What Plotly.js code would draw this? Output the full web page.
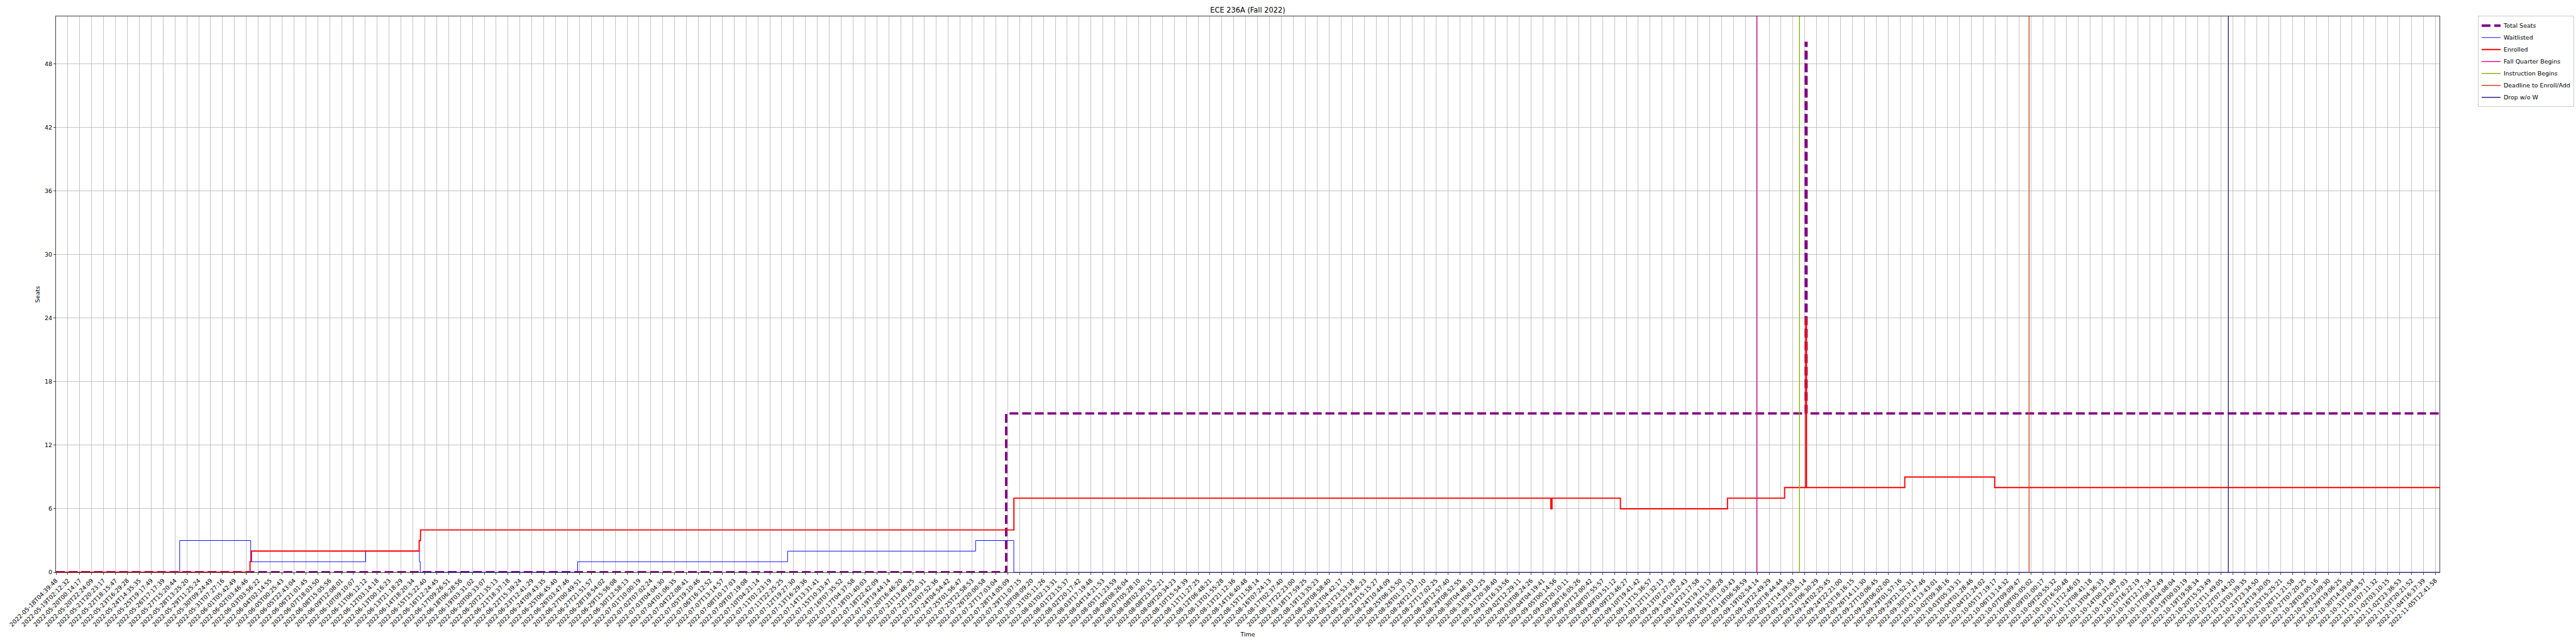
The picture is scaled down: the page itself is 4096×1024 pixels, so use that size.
<!DOCTYPE html>
<html><head><meta charset="utf-8">
<script src="https://cdn.plot.ly/plotly-3.0.1.min.js"></script>
<style>html,body{margin:0;padding:0;background:#fff;} #chart{width:4096px;height:1024px;}</style>
</head><body><div id="chart"></div>
<script>
// x positions are in tick units: tick k sits at x = k (every labelled sample)
const tickLabels = [
 '2022-05-18T04:39:48','2022-05-19T02:12:32','2022-05-20T00:14:17','2022-05-20T22:24:09','2022-05-21T20:23:17',
 '2022-05-22T18:15:47','2022-05-23T16:29:28','2022-05-24T14:35:35','2022-05-25T19:17:49','2022-05-26T17:17:39',
 '2022-05-27T15:20:44','2022-05-28T13:25:20','2022-05-29T11:25:24','2022-05-30T09:24:49','2022-05-31T07:27:16',
 '2022-06-01T05:42:49','2022-06-02T03:46:46','2022-06-03T03:56:22','2022-06-04T02:14:55','2022-06-05T00:25:43',
 '2022-06-05T22:43:04','2022-06-06T21:01:45','2022-06-07T18:03:50','2022-06-08T15:05:56','2022-06-09T12:08:01',
 '2022-06-10T09:10:07','2022-06-11T06:12:12','2022-06-12T03:14:18','2022-06-13T00:16:23','2022-06-13T21:18:29',
 '2022-06-14T18:20:34','2022-06-15T15:22:40','2022-06-16T12:24:45','2022-06-17T09:26:51','2022-06-18T06:28:56',
 '2022-06-19T03:31:02','2022-06-20T00:33:07','2022-06-20T21:35:13','2022-06-21T18:37:18','2022-06-22T15:39:24',
 '2022-06-23T12:41:29','2022-06-24T09:43:35','2022-06-25T06:45:40','2022-06-26T03:47:46','2022-06-27T00:49:51',
 '2022-06-27T21:51:57','2022-06-28T18:54:02','2022-06-29T15:56:08','2022-06-30T12:58:13','2022-07-01T10:00:19',
 '2022-07-02T07:02:24','2022-07-03T04:04:30','2022-07-04T01:06:35','2022-07-04T22:08:41','2022-07-05T19:10:46',
 '2022-07-06T16:12:52','2022-07-07T13:14:57','2022-07-08T10:17:03','2022-07-09T07:19:08','2022-07-10T04:21:14',
 '2022-07-11T01:23:19','2022-07-11T22:25:25','2022-07-12T19:27:30','2022-07-13T16:29:36','2022-07-14T13:31:41',
 '2022-07-15T10:33:47','2022-07-16T07:35:52','2022-07-17T04:37:58','2022-07-18T01:40:03','2022-07-18T22:42:09',
 '2022-07-19T19:44:14','2022-07-20T16:46:20','2022-07-21T13:48:25','2022-07-22T10:50:31','2022-07-23T07:52:36',
 '2022-07-24T04:54:42','2022-07-25T01:56:47','2022-07-25T22:58:53','2022-07-26T20:00:58','2022-07-27T17:03:04',
 '2022-07-28T14:05:09','2022-07-29T11:07:15','2022-07-30T08:09:20','2022-07-31T05:11:26','2022-08-01T02:13:31',
 '2022-08-01T23:15:37','2022-08-02T20:17:42','2022-08-03T17:19:48','2022-08-04T14:21:53','2022-08-05T11:23:59',
 '2022-08-06T08:26:04','2022-08-07T05:28:10','2022-08-08T02:30:15','2022-08-08T23:32:21','2022-08-09T20:34:23',
 '2022-08-10T15:54:39','2022-08-11T11:27:25','2022-08-12T06:48:21','2022-08-13T01:55:28','2022-08-13T21:12:36',
 '2022-08-14T16:40:48','2022-08-15T11:58:14','2022-08-16T07:24:13','2022-08-17T02:37:40','2022-08-17T22:23:00',
 '2022-08-18T17:59:25','2022-08-19T13:35:23','2022-08-20T08:58:40','2022-08-21T04:42:17','2022-08-21T23:53:18',
 '2022-08-22T19:26:23','2022-08-23T15:15:27','2022-08-24T10:44:09','2022-08-25T06:15:50','2022-08-26T01:37:33',
 '2022-08-26T21:07:10','2022-08-27T17:02:25','2022-08-28T12:57:40','2022-08-29T08:52:55','2022-08-30T04:48:10',
 '2022-08-31T00:43:25','2022-08-31T20:38:40','2022-09-01T16:33:56','2022-09-02T12:29:11','2022-09-03T08:24:26',
 '2022-09-04T04:19:41','2022-09-05T00:14:56','2022-09-05T20:10:11','2022-09-06T16:05:26','2022-09-07T12:00:42',
 '2022-09-08T07:55:57','2022-09-09T03:51:12','2022-09-09T23:46:27','2022-09-10T19:41:42','2022-09-11T15:36:57',
 '2022-09-12T11:32:13','2022-09-13T07:27:28','2022-09-14T03:22:43','2022-09-14T23:17:58','2022-09-15T19:13:13',
 '2022-09-16T15:08:28','2022-09-17T11:03:43','2022-09-18T06:58:59','2022-09-19T02:54:14','2022-09-19T22:49:29',
 '2022-09-20T18:44:44','2022-09-21T14:39:59','2022-09-22T10:35:14','2022-09-23T06:30:29','2022-09-24T02:25:45',
 '2022-09-24T22:21:00','2022-09-25T18:16:15','2022-09-26T14:11:30','2022-09-27T10:06:45','2022-09-28T06:02:00',
 '2022-09-29T01:57:16','2022-09-29T21:52:31','2022-09-30T17:47:46','2022-10-01T13:43:01','2022-10-02T09:38:16',
 '2022-10-03T05:33:31','2022-10-04T01:28:46','2022-10-04T21:24:02','2022-10-05T17:19:17','2022-10-06T13:14:32',
 '2022-10-07T09:09:47','2022-10-08T05:05:02','2022-10-09T01:00:17','2022-10-09T20:55:32','2022-10-10T16:50:48',
 '2022-10-11T12:46:03','2022-10-12T08:41:18','2022-10-13T04:36:33','2022-10-14T00:31:48','2022-10-14T20:27:03',
 '2022-10-15T16:22:19','2022-10-16T12:17:34','2022-10-17T08:12:49','2022-10-18T04:08:04','2022-10-19T00:03:19',
 '2022-10-19T19:58:34','2022-10-20T15:53:49','2022-10-21T11:49:05','2022-10-22T07:44:20','2022-10-23T03:39:35',
 '2022-10-23T23:34:50','2022-10-24T19:30:05','2022-10-25T15:25:21','2022-10-26T11:21:58','2022-10-27T07:20:25',
 '2022-10-28T03:05:16','2022-10-28T23:09:30','2022-10-29T19:06:25','2022-10-30T14:59:04','2022-10-31T10:59:57',
 '2022-11-01T07:11:32','2022-11-02T03:10:15','2022-11-02T23:36:53','2022-11-03T20:21:52','2022-11-04T16:37:39',
 '2022-11-05T12:41:58'
];
const seatsX = [0, 79.87, 147.08, 147.14, 200.35];
const seatsY = [0, 15, 50, 15, 15];
const waitX = [0, 10.4, 16.37, 26.03, 30.55, 30.62, 43.85, 61.5, 77.3, 80.51, 200.35];
const waitY = [0, 3, 1, 2, 1, 0, 1, 2, 3, 0, 0];
const enrolledX = [0, 16.31, 16.43, 30.53, 30.64, 80.52, 125.65, 125.75, 131.5, 140.5, 145.3, 147.08, 147.14, 155.4, 162.96, 200.35];
const enrolledY = [0, 1, 2, 3, 4, 7, 6, 7, 6, 7, 8, 24, 8, 9, 8, 8];
const eventNames = ['Fall Quarter Begins','Instruction Begins','Deadline to Enroll/Add','Drop w/o W'];
const eventX = [142.96, 146.55, 165.85, 182.6];
const eventColors = ['#e2189c','#8ab414','#cf4b1b','#30288a'];
const yTicks = [0, 6, 12, 18, 24, 30, 36, 42, 48];

const tickVals = tickLabels.map((_, k) => k);
const S = 0.682;
const font = 'DejaVu Sans, Liberation Sans, sans-serif';
const yTop = 52.5;
const traces = [
  {x: seatsX, y: seatsY, name: 'Total Seats', mode: 'lines', line: {shape: 'hv', color: '#800080', width: 5.56*S, dash: (20.6*S).toFixed(1)+'px,'+(8.9*S).toFixed(1)+'px'}},
  {x: waitX, y: waitY, name: 'Waitlisted', mode: 'lines', line: {shape: 'hv', color: '#0000ff', width: 1.39*S}},
  {x: enrolledX, y: enrolledY, name: 'Enrolled', mode: 'lines', line: {shape: 'hv', color: '#ff0000', width: 2.78*S}}
];
eventNames.forEach((n, i) => traces.push({x: [eventX[i], eventX[i]], y: [0, yTop], name: n, mode: 'lines', line: {color: eventColors[i], width: 2.08*S}}));

const axisCommon = {showline: true, mirror: true, linecolor: '#000', linewidth: 1.1*S, ticks: 'outside', ticklen: 4.86*S, tickwidth: 1.1*S, tickcolor: '#000',
  showgrid: true, gridcolor: '#b0b0b0', gridwidth: 1.1*S, zeroline: false, tickfont: {family: font, size: 13.9*S, color: '#000'}};
const layout = {
  width: 4096, height: 1024, paper_bgcolor: '#fff', plot_bgcolor: '#fff',
  margin: {l: 131*S, r: 4096 - 5687*S, t: 37.5*S, b: 1024 - 1338*S, pad: 0},
  font: {family: font, color: '#000'},
  title: {text: 'ECE 236A (Fall 2022)', font: {family: font, size: 16.7*S, color: '#000'}, x: 0.5, xref: 'paper', y: 1 - 23*S/1024, yref: 'container', yanchor: 'middle'},
  xaxis: Object.assign({}, axisCommon, {range: [0, 200.35], tickmode: 'array', tickvals: tickVals, ticktext: tickLabels, tickangle: -45, automargin: true,
    title: {text: 'Time', font: {family: font, size: 13.9*S, color: '#000'}, standoff: 7}}),
  yaxis: Object.assign({}, axisCommon, {range: [0, yTop], tickmode: 'array', tickvals: yTicks, automargin: true,
    title: {text: 'Seats', font: {family: font, size: 13.9*S, color: '#000'}, standoff: 5}}),
  showlegend: true,
  legend: {xref: 'container', yref: 'container', x: 3940/4096, y: 1 - 37*S/1024, xanchor: 'left', yanchor: 'top', bgcolor: '#fff', bordercolor: '#cccccc', borderwidth: 1,
    font: {family: font, size: 13.9*S, color: '#000'}, itemwidth: 30, tracegroupgap: 0},
  hovermode: false
};
Plotly.newPlot('chart', traces, layout, {displayModeBar: false, staticPlot: true});
</script></body></html>
